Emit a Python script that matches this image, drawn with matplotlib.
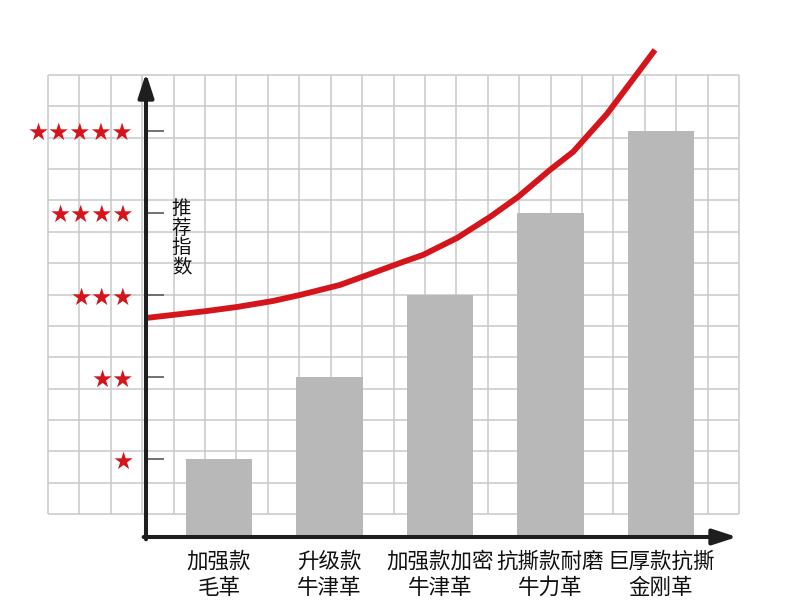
import matplotlib.pyplot as plt
import numpy as np

plt.rcParams['font.family'] = ['Noto Sans CJK SC', 'DejaVu Sans']

# product names and their recommendation level (number of stars)
products = ['加强款\n毛革', '升级款\n牛津革', '加强款加密\n牛津革', '抗撕款耐磨\n牛力革', '巨厚款抗撕\n金刚革']
stars = [1, 2, 3, 4, 5]

# red trend curve (x in bar units, y in star units)
curve_x = [-0.661, -0.109, 0.163, 0.489, 0.733, 1.095, 1.394, 1.638, 1.846,
           2.154, 2.452, 2.706, 2.995, 3.204, 3.511, 3.81, 3.946]
curve_y = [2.72, 2.805, 2.854, 2.927, 3.0, 3.122, 3.268, 3.389, 3.487,
           3.693, 3.949, 4.192, 4.521, 4.74, 5.202, 5.737, 5.981]

W, H = 790, 613
fig = plt.figure(figsize=(W / 100, H / 100), dpi=100)

# background grid paper
bg = fig.add_axes([48 / W, (H - 514) / H, (739 - 48) / W, (514 - 75) / H])
bg.set_xlim(0, 22)
bg.set_ylim(0, 14)
bg.vlines(np.arange(23), 0, 14, color='#c9c9c9', lw=1.1, clip_on=False)
bg.hlines(np.arange(15), 0, 22, color='#c9c9c9', lw=1.1, clip_on=False)
bg.axis('off')

# main chart
ax = fig.add_axes([146 / W, (H - 537) / H, (737 - 146) / W, (537 - 73) / H])
ax.set_facecolor('none')
ax.set_xlim(-0.661, 4.688)
ax.set_ylim(0.056, 5.70)

x = np.arange(len(products))
ax.bar(x, stars, width=0.6, color='#b8b8b9', zorder=2)
ax.plot(curve_x, curve_y, color='#d5151c', lw=4.2, solid_capstyle='butt',
        solid_joinstyle='round', clip_on=False, zorder=3)

for s in ax.spines.values():
    s.set_visible(False)

# axis arrows
arrow = dict(arrowstyle='-|>,head_length=1.45,head_width=0.47', color='#1e1e1e',
             lw=2.9, mutation_scale=10, shrinkA=0, shrinkB=0)
ax.annotate('', xy=(1, 0), xytext=(-0.004, 0), xycoords='axes fraction',
            arrowprops=arrow, zorder=4, annotation_clip=False)
ax.annotate('', xy=(0, 1), xytext=(0, -0.005), xycoords='axes fraction',
            arrowprops=arrow, zorder=4, annotation_clip=False)

ax.set_xticks(x)
ax.set_xticklabels(products, fontsize=15.5, color='#111111', linespacing=1.22)
ax.tick_params(axis='x', length=0, pad=10)

ax.set_yticks(stars)
ax.set_yticklabels(['★' * n for n in stars], color='#d5151c', fontsize=17,
                   family='DejaVu Sans')
ax.tick_params(axis='y', direction='in', length=13, width=1.3, color='#666666', pad=9)

ax.text(-0.339, 3.693, '推\n荐\n指\n数', fontsize=14, ha='center', va='center',
        linespacing=0.92, color='#111111')

fig.savefig('out.png', dpi=100)
